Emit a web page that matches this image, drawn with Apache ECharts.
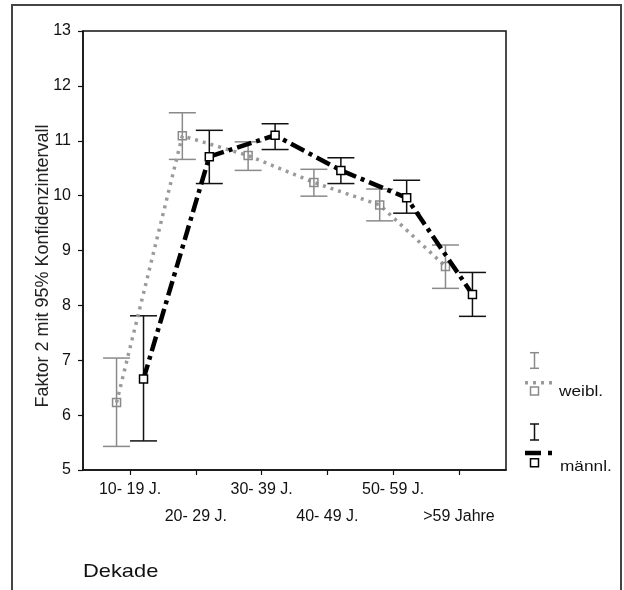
<!DOCTYPE html>
<html>
<head>
<meta charset="utf-8">
<script src="https://cdn.jsdelivr.net/npm/echarts@6/dist/echarts.min.js"></script>
<style>html,body{margin:0;padding:0;background:#fff}#c{width:624px;height:590px}</style>
</head>
<body>
<div id="c"></div>
<script>
var categories = ['10- 19 J.', '20- 29 J.', '30- 39 J.', '40- 49 J.', '50- 59 J.', '>59 Jahre'];
var yTicks = [5, 6, 7, 8, 9, 10, 11, 12, 13];
var weiblMean = [6.23, 11.09, 10.73, 10.24, 9.83, 8.71];
var weiblLow  = [5.43, 10.66, 10.46, 9.99, 9.54, 8.31];
var weiblHigh = [7.04, 11.51, 10.98, 10.48, 10.12, 9.10];
var maennlMean = [6.66, 10.71, 11.10, 10.46, 9.96, 8.20];
var maennlLow  = [5.53, 10.22, 10.84, 10.22, 9.68, 7.80];
var maennlHigh = [7.81, 11.19, 11.31, 10.69, 10.28, 8.60];

var OFFSET = 0.205;
var catPos = categories.map(function (c, i) { return i + 1; });
var rowOne = catPos.filter(function (p, i) { return i % 2 === 0; });
var rowTwo = catPos.filter(function (p, i) { return i % 2 === 1; });
function pts(mean, off) { return mean.map(function (v, i) { return [catPos[i] + off, v]; }); }
function bars(lo, hi, off) { return lo.map(function (v, i) { return [catPos[i] + off, v, hi[i]]; }); }
function catLabel(v) { return categories[Math.round(v) - 1]; }

var FONT = '"Liberation Sans", Arial, sans-serif';

function errRender(color) {
  return function (params, api) {
    var x = api.value(0);
    var p1 = api.coord([x, api.value(1)]);
    var p2 = api.coord([x, api.value(2)]);
    var hw = 13.5;
    var st = { stroke: color, lineWidth: 1.5 };
    return {
      type: 'group',
      children: [
        { type: 'line', shape: { x1: p1[0], y1: p1[1], x2: p2[0], y2: p2[1] }, style: st },
        { type: 'line', shape: { x1: p1[0] - hw, y1: p1[1], x2: p1[0] + hw, y2: p1[1] }, style: st },
        { type: 'line', shape: { x1: p2[0] - hw, y1: p2[1], x2: p2[0] + hw, y2: p2[1] }, style: st }
      ]
    };
  };
}

var labelBase = { color: '#111', fontFamily: FONT, fontSize: 16, showMinLabel: true, showMaxLabel: true, hideOverlap: false, formatter: catLabel };

var chart = echarts.init(document.getElementById('c'), null, { renderer: 'canvas' });
chart.setOption({
  animation: false,
  backgroundColor: '#fff',
  grid: { left: 83, top: 31, width: 423, height: 439, show: true, borderColor: '#111', borderWidth: 1.5, backgroundColor: 'transparent' },
  xAxis: [{
    type: 'value', min: 0.285, max: 6.715, position: 'bottom',
    splitLine: { show: false },
    axisLine: { show: true, lineStyle: { color: '#111', width: 1.5 } },
    axisTick: { show: true, length: 5, lineStyle: { color: '#111', width: 1.2 }, customValues: catPos },
    axisLabel: Object.assign({ customValues: rowOne, margin: 12 }, labelBase)
  }, {
    type: 'value', min: 0.285, max: 6.715, position: 'bottom', offset: 0,
    splitLine: { show: false },
    axisLine: { show: false },
    axisTick: { show: false },
    axisLabel: Object.assign({ customValues: rowTwo, margin: 39 }, labelBase)
  }],
  yAxis: {
    type: 'value', min: yTicks[0], max: yTicks[yTicks.length - 1], interval: 1,
    splitLine: { show: false },
    axisLine: { show: true, lineStyle: { color: '#111', width: 1.5 } },
    axisTick: { show: true, length: 5, lineStyle: { color: '#111', width: 1.2 } },
    axisLabel: { margin: 12, color: '#111', fontFamily: FONT, fontSize: 16, showMinLabel: true, showMaxLabel: true }
  },
  series: [
    { type: 'custom', name: 'weiblErr', renderItem: errRender('#8a8a8a'), data: bars(weiblLow, weiblHigh, -OFFSET), z: 2, encode: { x: 0, y: [1, 2] } },
    { type: 'custom', name: 'maennlErr', renderItem: errRender('#111'), data: bars(maennlLow, maennlHigh, OFFSET), z: 2, encode: { x: 0, y: [1, 2] } },
    {
      type: 'line', name: 'weibl.', data: pts(weiblMean, -OFFSET), z: 3,
      lineStyle: { color: '#9a9a9a', width: 3.5, type: [3, 5], cap: 'butt' },
      symbol: 'rect', symbolSize: 8, showAllSymbol: true,
      itemStyle: { color: 'rgba(255,255,255,0)', borderColor: '#8a8a8a', borderWidth: 1.5 }
    },
    {
      type: 'line', name: 'männl.', data: pts(maennlMean, OFFSET), z: 4,
      lineStyle: { color: '#000', width: 4.5, type: [15, 5, 4, 5], cap: 'butt' },
      symbol: 'rect', symbolSize: 8, showAllSymbol: true,
      itemStyle: { color: '#fff', borderColor: '#000', borderWidth: 1.5 }
    }
  ],
  graphic: [
    { type: 'rect', shape: { x: 12, y: 5, width: 609, height: 620 }, style: { fill: 'none', stroke: '#444', lineWidth: 2 }, silent: true },
    { type: 'text', x: 43, y: 266, rotation: Math.PI / 2, style: { text: 'Faktor 2 mit 95% Konfidenzintervall', font: '18px ' + FONT, fill: '#222', align: 'center', verticalAlign: 'middle' } },
    { type: 'text', x: 83, y: 572, scaleX: 1.15, style: { text: 'Dekade', font: '19px ' + FONT, fill: '#111', align: 'left', verticalAlign: 'middle' } },
    // legend weibl
    { type: 'line', shape: { x1: 534.5, y1: 352.7, x2: 534.5, y2: 368.3 }, style: { stroke: '#8a8a8a', lineWidth: 1.5 } },
    { type: 'line', shape: { x1: 530, y1: 352.7, x2: 539, y2: 352.7 }, style: { stroke: '#8a8a8a', lineWidth: 1.5 } },
    { type: 'line', shape: { x1: 530, y1: 368.3, x2: 539, y2: 368.3 }, style: { stroke: '#8a8a8a', lineWidth: 1.5 } },
    { type: 'line', shape: { x1: 525, y1: 382.7, x2: 554, y2: 382.7 }, style: { stroke: '#9a9a9a', lineWidth: 3.5, lineDash: [3, 5] } },
    { type: 'rect', shape: { x: 530.5, y: 387, width: 8, height: 8 }, style: { fill: 'none', stroke: '#8a8a8a', lineWidth: 1.5 } },
    { type: 'text', x: 559, y: 392, scaleX: 1.15, style: { text: 'weibl.', font: '15px ' + FONT, fill: '#111', align: 'left', verticalAlign: 'middle' } },
    // legend maennl
    { type: 'line', shape: { x1: 534.5, y1: 424, x2: 534.5, y2: 440 }, style: { stroke: '#111', lineWidth: 1.5 } },
    { type: 'line', shape: { x1: 530, y1: 424, x2: 539, y2: 424 }, style: { stroke: '#111', lineWidth: 1.5 } },
    { type: 'line', shape: { x1: 530, y1: 440, x2: 539, y2: 440 }, style: { stroke: '#111', lineWidth: 1.5 } },
    { type: 'line', shape: { x1: 525, y1: 453, x2: 541, y2: 453 }, style: { stroke: '#000', lineWidth: 4.5 } },
    { type: 'line', shape: { x1: 548, y1: 453, x2: 552, y2: 453 }, style: { stroke: '#000', lineWidth: 4.5 } },
    { type: 'rect', shape: { x: 530.5, y: 458.7, width: 8, height: 8 }, style: { fill: '#fff', stroke: '#000', lineWidth: 1.5 } },
    { type: 'text', x: 560, y: 467, scaleX: 1.15, style: { text: 'männl.', font: '15px ' + FONT, fill: '#111', align: 'left', verticalAlign: 'middle' } }
  ]
});
</script>
</body>
</html>
